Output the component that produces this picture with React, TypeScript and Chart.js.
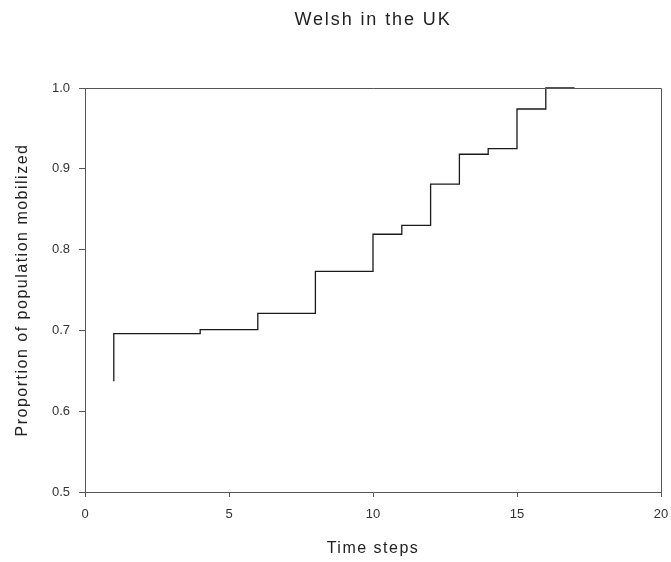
import React, { useEffect, useRef } from "react";
import { Chart, registerables } from "chart.js";

Chart.register(...registerables);

const chartTitle = "Welsh in the UK";
const xTitle = "Time steps";
const yTitle = "Proportion of population mobilized";
const timeSteps = [1, 1, 4, 6, 8, 10, 11, 12, 13, 14, 15, 16, 17];
const proportion = [0.637, 0.696, 0.701, 0.721, 0.773, 0.819, 0.830, 0.881, 0.918, 0.925, 0.974, 1.0, 1.0];
const xTicks = [0, 5, 10, 15, 20];
const yTicks = [0.5, 0.6, 0.7, 0.8, 0.9, 1.0];

const FONT = "Arial, 'Liberation Sans', sans-serif";

const textPlugin = {
  id: "customText",
  afterDraw(chart: any) {
    const { ctx, chartArea } = chart;
    const { left, right, top, bottom } = chartArea;
    ctx.save();
    ctx.strokeStyle = "#555";
    ctx.lineWidth = 1;
    ctx.beginPath();
    ctx.moveTo(left, top + 0.5);
    ctx.lineTo(right + 0.5, top + 0.5);
    ctx.lineTo(right + 0.5, bottom);
    ctx.stroke();

    ctx.fillStyle = "#222";
    ctx.textAlign = "center";
    ctx.textBaseline = "middle";
    const cx = (left + right) / 2;
    (ctx as any).letterSpacing = "1.9px";
    ctx.font = `18px ${FONT}`;
    ctx.fillText(chartTitle, cx, 20);
    (ctx as any).letterSpacing = "1.5px";
    ctx.font = `16px ${FONT}`;
    ctx.fillText(xTitle, cx, 549);
    ctx.translate(23, (top + bottom) / 2);
    ctx.rotate(-Math.PI / 2);
    (ctx as any).letterSpacing = "1.5px";
    ctx.fillText(yTitle, 0, 0);
    ctx.restore();
  },
};

export default function App() {
  const ref = useRef<HTMLCanvasElement | null>(null);
  useEffect(() => {
    if (!ref.current) return;
    const chart = new Chart(ref.current, {
      type: "line",
      data: {
        datasets: [
          {
            data: timeSteps.map((x, i) => ({ x, y: proportion[i] })),
            borderColor: "#1a1a1a",
            borderWidth: 1.3,
            pointRadius: 0,
            stepped: "before",
            fill: false,
            clip: false,
          },
        ],
      },
      options: {
        animation: false,
        responsive: false,
        maintainAspectRatio: false,
        layout: { padding: { top: 88, right: 10, left: 0, bottom: 0 } },
        plugins: { legend: { display: false }, tooltip: { enabled: false }, title: { display: false } },
        scales: {
          x: {
            type: "linear",
            min: 0,
            max: 20,
            afterFit: (s: any) => {
              s.height = 70;
              s.paddingRight = 0;
              s.paddingLeft = 0;
            },
            afterBuildTicks: (s: any) => {
              s.ticks = xTicks.map((v) => ({ value: v }));
            },
            ticks: { color: "#333", font: { family: FONT, size: 13 }, padding: 10, maxRotation: 0 },
            grid: { display: true, drawOnChartArea: false, drawTicks: true, tickLength: 5, color: "#555" },
            border: { display: true, color: "#555", width: 1 },
          },
          y: {
            type: "linear",
            min: 0.5,
            max: 1.0,
            afterFit: (s: any) => {
              s.width = 85;
            },
            afterBuildTicks: (s: any) => {
              s.ticks = yTicks.map((v) => ({ value: v }));
            },
            ticks: {
              color: "#333",
              font: { family: FONT, size: 13 },
              padding: 9,
              callback: (v: any) => Number(v).toFixed(1),
            },
            grid: { display: true, drawOnChartArea: false, drawTicks: true, tickLength: 6, color: "#555" },
            border: { display: true, color: "#555", width: 1 },
          },
        },
      },
      plugins: [textPlugin],
    });
    return () => chart.destroy();
  }, []);
  return (
    <div style={{ position: "absolute", left: 0, top: 0, width: 671, height: 562, background: "#fff" }}>
      <canvas ref={ref} width={671} height={562} style={{ width: 671, height: 562 }} />
    </div>
  );
}
